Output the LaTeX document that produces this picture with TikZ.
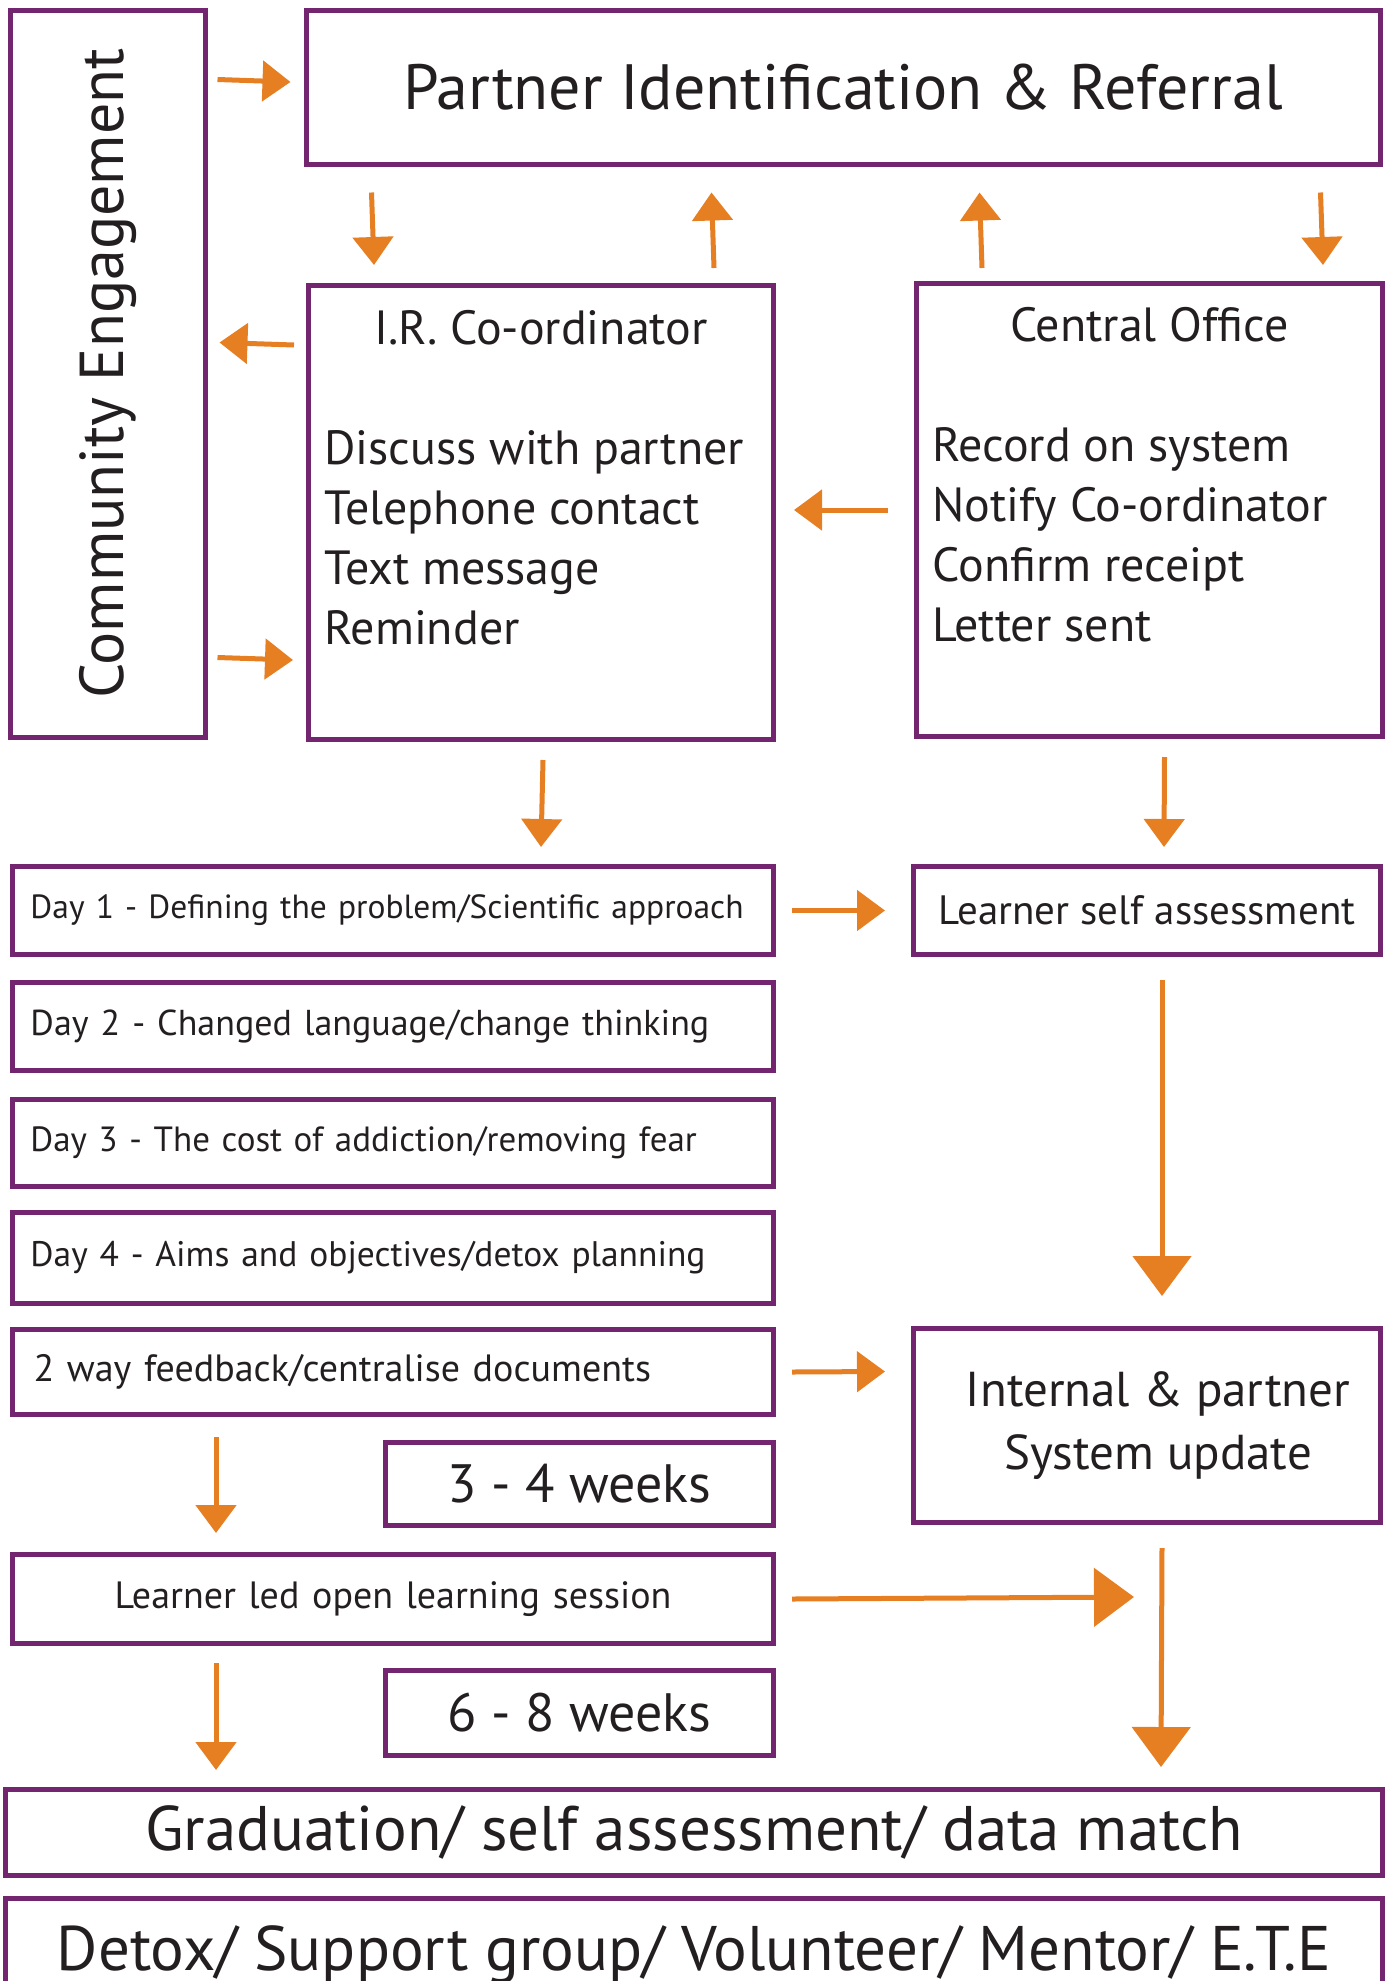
\documentclass[tikz,border=0pt]{standalone}
\usepackage{fontspec}
\usepackage{graphicx}
\setmainfont{PT Sans}
\usetikzlibrary{arrows.meta}

\definecolor{boxpurple}{HTML}{74256F}
\definecolor{arroworange}{HTML}{E67E22}
\definecolor{inkblack}{HTML}{231F20}

\begin{document}
\begin{tikzpicture}[
        x=1pt, y=-1pt,
        every node/.style={text=inkblack},
        box/.style={draw=boxpurple, line width=5pt, rectangle, inner sep=0pt},
        daybox/.style={box, anchor=north west, minimum height=88pt, text width=725pt,
            inner xsep=18pt, align=left, font=\fontsize{35}{42}\selectfont},
        arr/.style={draw=arroworange, line width=5pt, -{Triangle[length=28pt,width=40pt]}},
        bigarr/.style={arr, -{Triangle[length=40pt,width=58pt]}},
    ]
    \useasboundingbox (0,0) rectangle (1389,1981);
    % top part
    \node[box, minimum width=195pt, minimum height=727pt,
        font=\fontsize{62}{74}\selectfont] (ce) at (107.5,373.5) {\rotatebox{90}{Community Engagement}};
    \node[box, minimum width=1074pt, minimum height=154pt,
        font=\fontsize{64}{76}\selectfont] (pi) at (843,87) {Partner Identification \& Referral};
    \node[box, anchor=north west, inner xsep=16pt, font=\fontsize{48}{60}\selectfont] (ir) at (306,283)
        {\parbox[c][454pt][t]{433pt}{\vspace*{17pt}\strut\hfill I.R. Co-ordinator\hfill\null\\[60pt]
        Discuss with partner\\Telephone contact\\Text message\\Reminder}};
    \node[box, anchor=north west, inner xsep=16pt, font=\fontsize{48}{60}\selectfont] (co) at (914,281)
        {\parbox[c][453pt][t]{434pt}{\vspace*{16pt}\strut\hfill Central Office\hfill\null\\[60pt]
        Record on system\\Notify Co-ordinator\\Confirm receipt\\Letter sent}};
    % course days
    \node[daybox, font=\fontsize{33.5}{40}\selectfont] (day1) at (10,864) {Day 1 - Defining the problem/Scientific approach};
    \node[daybox, font=\fontsize{36}{42}\selectfont] (day2) at (10,980) {Day 2 - Changed language/change thinking};
    \node[daybox, minimum height=87pt] (day3) at (10,1097) {Day 3 - The cost of addiction/removing fear};
    \node[daybox, minimum height=91pt, font=\fontsize{35.5}{42}\selectfont] (day4) at (10,1210) {Day 4 - Aims and objectives/detox planning};
    \node[daybox, minimum height=85pt, text width=719pt, inner xsep=21pt,
        font=\fontsize{38}{44}\selectfont] (fb) at (10,1327) {2 way feedback/centralise documents};
    \node[daybox, minimum height=89pt, align=center,
        font=\fontsize{38}{44}\selectfont] (learn) at (10,1552) {Learner led open learning session};
    \node[box, anchor=north west, minimum width=467pt, minimum height=88pt,
        font=\fontsize{41}{48}\selectfont] (lsa) at (911,864) {Learner self assessment};
    \node[box, anchor=north west, minimum width=467pt, minimum height=194pt, align=center,
        font=\fontsize{49}{63}\selectfont] (isu) at (911,1326) {\hspace*{22pt}Internal \& partner\\\hspace*{22pt}System update};
    \node[box, anchor=north west, minimum width=388pt, minimum height=83pt,
        font=\fontsize{54}{64}\selectfont] (wk34) at (383,1440) {3 - 4 weeks};
    \node[box, anchor=north west, minimum width=388pt, minimum height=85pt,
        font=\fontsize{54}{64}\selectfont] (wk68) at (383,1668) {6 - 8 weeks};
    % bottom rows
    \node[box, anchor=north west, minimum width=1377pt, minimum height=86pt,
        font=\fontsize{63}{72}\selectfont] (grad) at (3,1787) {Graduation/ self assessment/ data match};
    \node[box, anchor=north west, minimum width=1377pt, minimum height=112pt,
        font=\fontsize{63}{74}\selectfont] (detox) at (3,1896) {Detox/ Support group/ Volunteer/ Mentor/ E.T.E};
    \coordinate (meet) at (1134,1597);

    % arrows
    \draw[arr] ([xshift=10pt,yshift=-72pt]ce.north east) -- ([xshift=-13pt,yshift=5pt]pi.west);
    \draw[arr] ([xshift=68pt,yshift=-26pt]pi.south west) -- ([xshift=68pt,yshift=18pt]ir.north west);
    \draw[arr] ([xshift=408pt,yshift=15pt]ir.north west) -- ([xshift=408pt,yshift=-26pt]pi.south west);
    \draw[arr] ([xshift=68pt,yshift=13pt]co.north west) -- ([xshift=676pt,yshift=-26pt]pi.south west);
    \draw[arr] ([xshift=-62pt,yshift=-26pt]pi.south east) -- ([xshift=-62pt,yshift=16pt]co.north east);
    \draw[arr] ([xshift=-12pt,yshift=-62pt]ir.north west) -- ([xshift=12pt,yshift=-335pt]ce.north east);
    \draw[arr] ([xshift=10pt,yshift=-650pt]ce.north east) -- ([xshift=-13pt,yshift=-377pt]ir.north west);
    \draw[arr] ([xshift=-26pt]co.west) -- ([xshift=18pt,yshift=2.5pt]ir.east);
    \draw[arr] ([xshift=2pt,yshift=-18pt]ir.south) -- ([xshift=531pt,yshift=17pt]day1.north west);
    \draw[arr] ([xshift=15pt,yshift=-18pt]co.south) -- ([xshift=17pt,yshift=17pt]lsa.north);
    \draw[arr] ([xshift=16pt]day1.east) -- ([xshift=-26pt]lsa.west);
    \draw[bigarr] ([xshift=15pt,yshift=-23pt]lsa.south) -- ([xshift=15pt,yshift=30pt]isu.north);
    \draw[arr] ([xshift=16pt]fb.east) -- ([xshift=-26pt,yshift=54pt]isu.west);
    \draw[arr] ([xshift=206pt,yshift=-20pt]fb.south west) -- ([xshift=206pt,yshift=19pt]learn.north west);
    \draw[bigarr] ([xshift=16pt]learn.east) -- (meet);
    \draw[bigarr] ([xshift=15pt,yshift=-23pt]isu.south) -- ([xshift=467pt,yshift=20pt]grad.north);
    \draw[arr] ([xshift=206pt,yshift=-17pt]learn.south west) -- ([xshift=213pt,yshift=17pt]grad.north west);
\end{tikzpicture}
\end{document}
